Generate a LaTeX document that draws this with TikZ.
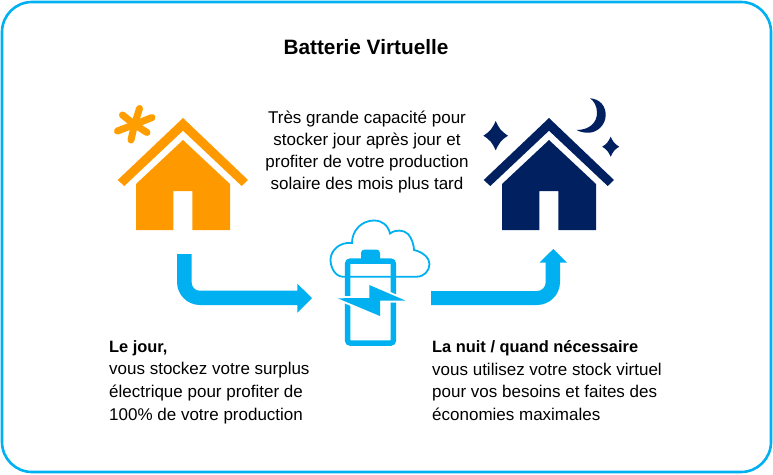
\documentclass[tikz,border=0pt]{standalone}
\usepackage{fontspec}
\setmainfont{Liberation Sans}
\usetikzlibrary{arrows.meta,positioning}

\definecolor{sunorange}{HTML}{FF9900}
\definecolor{nightblue}{HTML}{002060}
\definecolor{skyblue}{HTML}{00B0F0}

\tikzset{
    bodytext/.style={font=\fontsize{17}{22.7}\selectfont, inner sep=0pt},
    blocktitle/.style={font=\fontsize{20.8}{24}\selectfont\bfseries, inner sep=0pt},
}

% Bold lead-in line of a paragraph
\newcommand{\leadin}[1]{{\fontsize{16.4}{22.7}\selectfont\bfseries #1}}

% House icon, fill colour as argument
\newcommand{\houseicon}[1]{
    \fill[#1] (183, 118) -- (248, 180) -- (241.7, 186) -- (183, 130.7) -- (124.3, 186) -- (117.7, 180) -- cycle;
    \fill[#1] (183, 140) -- (230, 184) -- (230, 230) -- (192.3, 230) -- (192.3, 191) -- (173.3, 191) -- (173.3, 230) -- (136, 230) -- (136, 184) -- cycle;
}

% Four-point star: centre, half width, half height
\newcommand{\sparkle}[3]{
    \fill[nightblue] (#1) ++(0, -#3) .. controls +(0.3*#2, 0.55*#3) and +(-0.55*#2, -0.3*#3) .. ++(#2, #3)
        .. controls +(-0.55*#2, 0.3*#3) and +(0.3*#2, -0.55*#3) .. ++(-#2, #3)
        .. controls +(-0.3*#2, -0.55*#3) and +(0.55*#2, 0.3*#3) .. ++(-#2, -#3)
        .. controls +(0.55*#2, -0.3*#3) and +(-0.3*#2, 0.55*#3) .. cycle;
}

\begin{document}
\begin{tikzpicture}[x=1pt, y=-1pt]
    \useasboundingbox (0, 0) rectangle (773, 474);

    % Frame
    \draw[skyblue, line width=2.6pt, rounded corners=30pt] (2, 2) rectangle (771, 472);

    % Title
    \node[blocktitle] (title) at (366, 47) {Batterie Virtuelle};

    % Day house
    \houseicon{sunorange}
    \foreach \tip in {(139.5, 108.5), (152, 117.5), (147, 132.5), (131, 140), (117.5, 131), (122.5, 115)}
        \draw[sunorange!95!yellow, line width=7pt, line cap=round] (134.5, 124.5) -- \tip;

    % Night house
    \begin{scope}[xshift=366pt]
        \houseicon{nightblue}
    \end{scope}
    \sparkle{495.7, 135.7}{12.3}{14.7}
    \sparkle{610.7, 146.7}{8.5}{10}
    \fill[nightblue] (590, 98.3) .. controls (600, 99) and (605.7, 106) .. (605.7, 115)
        .. controls (605.7, 125) and (597, 133) .. (588, 132.7)
        .. controls (583, 132.7) and (579, 131.5) .. (576.7, 130)
        .. controls (590, 130) and (597, 122) .. (597, 113)
        .. controls (597, 106) and (594, 101) .. (590, 98.3) -- cycle;

    % Centre text
    \node[bodytext, align=center, font=\fontsize{17}{22}\selectfont] (capacity) at (367, 152) {Très grande capacité pour\\stocker jour après jour et\\profiter de votre production\\solaire des mois plus tard};

    % Left arrow
    \fill[skyblue] (177, 254) -- (191.7, 254) -- (191.7, 282.7) arc[start angle=180, end angle=90, radius=8]
        -- (297.3, 290.7) -- (297.3, 283.7) -- (312, 298) -- (297.3, 312.7) -- (297.3, 305) -- (200, 305)
        arc[start angle=90, end angle=180, radius=23] -- cycle;

    % Right arrow
    \fill[skyblue] (431, 291) -- (537, 291) arc[start angle=90, end angle=0, radius=8.7]
        -- (545.7, 262.7) -- (539.3, 262.7) -- (553.3, 249) -- (567, 262.7) -- (560, 262.7) -- (560, 282)
        arc[start angle=0, end angle=90, radius=23] -- (431, 305) -- cycle;

    % Cloud
    \draw[skyblue, line width=1.8pt] (343, 276.7)
        .. controls (335, 276.7) and (330.5, 267) .. (330.5, 260)
        .. controls (330.5, 250) and (340, 241.7) .. (352, 243)
        .. controls (352, 230) and (362, 220.5) .. (374, 220.5)
        .. controls (382, 220.5) and (388, 225) .. (390, 233.5)
        .. controls (396, 229) and (404, 230) .. (408, 234)
        .. controls (412, 238) and (414, 246) .. (414, 250)
        .. controls (423, 252) and (429.5, 258) .. (429.5, 264)
        .. controls (429.5, 271) and (424, 276.7) .. (416.7, 276.7) -- cycle;

    % Battery
    \draw[skyblue, line width=5.5pt, rounded corners=2.5pt] (347.7, 261.2) rectangle (393.3, 343);
    \fill[skyblue] (361, 259) -- (361, 253) arc[start angle=180, end angle=270, radius=3.5] -- (376.5, 249.5)
        arc[start angle=270, end angle=360, radius=3.5] -- (380, 259) -- cycle;

    % Lightning bolt
    \draw[white, line width=4pt, line join=round] (337.7, 298.3) -- (369.3, 298) -- (369.3, 285)
        -- (405.7, 300.7) -- (380, 300.7) -- (380, 316) -- cycle;
    \fill[skyblue] (337.7, 298.3) -- (369.3, 298) -- (369.3, 285)
        -- (405.7, 300.7) -- (380, 300.7) -- (380, 316) -- cycle;

    % Day text
    \node[bodytext, align=left, anchor=west] (daytext) at (109, 382) {\leadin{Le jour,}\\vous stockez votre surplus\\électrique pour profiter de\\100\% de votre production};

    % Night text
    \node[bodytext, align=left, anchor=west] (nighttext) at (432, 380.5) {\leadin{La nuit / quand nécessaire}\\vous utilisez votre stock virtuel\\pour vos besoins et faites des\\économies maximales};
\end{tikzpicture}
\end{document}
